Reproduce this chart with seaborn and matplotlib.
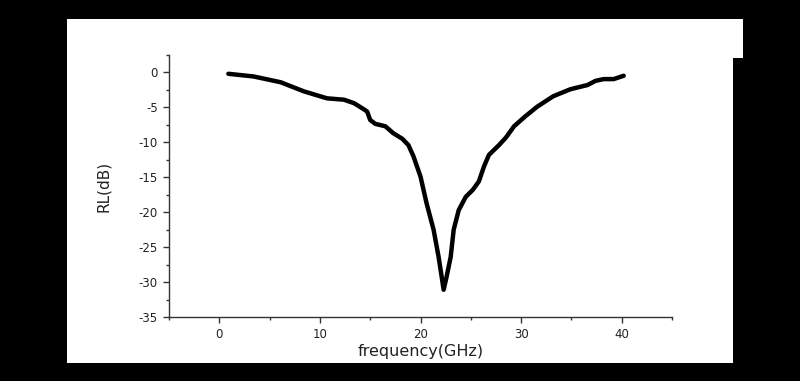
import numpy as np
import pandas as pd
import matplotlib
matplotlib.use("Agg")
import matplotlib.pyplot as plt
from matplotlib.patches import Rectangle
from matplotlib.ticker import MultipleLocator
import seaborn as sns

# Data
freq = [0.9, 3.4, 6.1, 8.4, 10.7, 12.4, 13.4, 14.4, 14.7, 15.0, 15.5, 16.5, 17.3,
        18.2, 18.8, 19.3, 20.0, 20.6, 21.3, 21.8, 22.1, 22.3, 22.6, 23.0, 23.3,
        23.8, 24.5, 25.2, 25.8, 26.3, 26.8, 27.8, 28.5, 29.3, 30.4, 31.6, 33.2,
        34.9, 36.6, 37.4, 38.2, 39.2, 40.2]
rl = [-0.19, -0.57, -1.4, -2.7, -3.7, -3.9, -4.4, -5.3, -5.6, -6.8, -7.35, -7.7, -8.7,
      -9.5, -10.4, -12.0, -14.9, -18.7, -22.5, -26.4, -29.2, -31.1, -29.2, -26.4, -22.5,
      -19.7, -17.8, -16.8, -15.6, -13.5, -11.8, -10.4, -9.3, -7.7, -6.3, -4.9, -3.4,
      -2.4, -1.8, -1.2, -0.95, -0.95, -0.47]
x_ticks = [0, 10, 20, 30, 40]
y_ticks = [0, -5, -10, -15, -20, -25, -30, -35]
x_label = "frequency(GHz)"
y_label = "RL(dB)"

df = pd.DataFrame({"freq": freq, "rl": rl})

sns.set_style("ticks")
plt.rcParams['font.family'] = ['DejaVu Sans']
plt.rcParams['axes.unicode_minus'] = False

W, H = 800, 381
fig = plt.figure(figsize=(W / 100, H / 100), dpi=100, facecolor="black")

# white panel + notch
fig.patches.append(Rectangle((67 / W, 1 - 363 / H), (733 - 67) / W, (363 - 19) / H,
                             transform=fig.transFigure, facecolor="white",
                             edgecolor="none", zorder=-5))
fig.patches.append(Rectangle((733 / W, 1 - 58 / H), 10 / W, (58 - 19) / H,
                             transform=fig.transFigure, facecolor="white",
                             edgecolor="none", zorder=-5))

ax = fig.add_axes([169 / W, 1 - 317 / H, (672 - 169) / W, (317 - 55) / H])
ax.set_facecolor("none")

sns.lineplot(data=df, x="freq", y="rl", ax=ax, color="black", linewidth=3.2,
             sort=False, solid_joinstyle="round", solid_capstyle="round")

ax.set_xlim(-5, 45)
ax.set_ylim(-35, 2.5)
ax.set_xticks(x_ticks)
ax.set_yticks(y_ticks)
ax.xaxis.set_minor_locator(MultipleLocator(5))
ax.yaxis.set_minor_locator(MultipleLocator(2.5))
ax.tick_params(which="major", length=4, width=1, color="#333333",
               labelsize=8.5, labelcolor="#222222", pad=4)
ax.tick_params(which="minor", length=2.5, width=1, color="#333333")

for s in ["top", "right"]:
    ax.spines[s].set_visible(False)
for s in ["left", "bottom"]:
    ax.spines[s].set_color("#333333")
    ax.spines[s].set_linewidth(1)

ax.set_xlabel(x_label, fontsize=11.5, color="#222222", labelpad=2)
ax.set_ylabel(y_label, fontsize=11, color="#222222", labelpad=20)

fig.savefig("out.png", dpi=100, facecolor="black")
